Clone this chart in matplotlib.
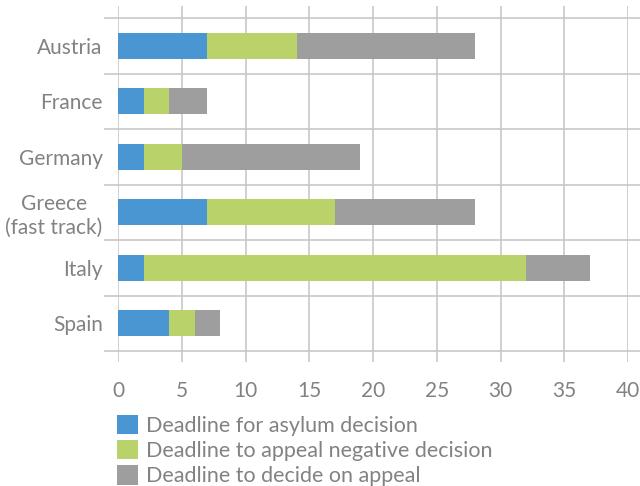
import matplotlib.pyplot as plt
from matplotlib.patches import Patch

countries = ["Austria", "France", "Germany", "Greece\n(fast track)", "Italy", "Spain"]
asylum_decision = [7, 2, 2, 7, 2, 4]
appeal_negative = [7, 2, 3, 10, 30, 2]
decide_on_appeal = [14, 3, 14, 11, 5, 2]
series_labels = [
    "Deadline for asylum decision",
    "Deadline to appeal negative decision",
    "Deadline to decide on appeal",
]
colors = ["#4a96d2", "#bad26a", "#9d9e9d"]
x_ticks = [0, 5, 10, 15, 20, 25, 30, 35, 40]

plt.rcParams['font.family'] = ['Lato', 'DejaVu Sans']
text_color = "#828282"
grid_color = "#c8c8c8"

fig = plt.figure(figsize=(6.4, 4.86), dpi=100)
W, H = 640, 486
left, right, top, bottom = 118, 628, 6, 362
ax = fig.add_axes([left / W, 1 - bottom / H, (right - left) / W, (bottom - top) / H])

cat_px = 55.5
ax.set_xlim(0, 40)
ax.set_ylim(len(countries) - 0.5 + 11 / cat_px, -0.5 - 12 / cat_px)

px_per_unit = (right - left) / 40
for x in x_ticks:
    ax.axvline(x, color=grid_color, lw=1.2, zorder=0)
for i in range(len(countries) + 1):
    ax.hlines(i - 0.5, -14 / px_per_unit, 40 + 12 / px_per_unit,
              color=grid_color, lw=1.2, zorder=0, clip_on=False)

y = range(len(countries))
starts = [0] * len(countries)
for vals, col, lab in zip([asylum_decision, appeal_negative, decide_on_appeal], colors, series_labels):
    ax.barh(y, vals, left=starts, height=0.47, color=col, label=lab, zorder=2)
    starts = [s + v for s, v in zip(starts, vals)]

for s in ax.spines.values():
    s.set_visible(False)
ax.set_xticks(x_ticks)
ax.set_yticks(list(y))
ax.set_yticklabels(countries, multialignment='center')
ax.tick_params(axis='both', length=0, labelsize=15, labelcolor=text_color)
ax.tick_params(axis='y', pad=11)
ax.tick_params(axis='x', pad=14)

handles = [Patch(facecolor=c, edgecolor='none') for c in colors]
leg = fig.legend(handles, series_labels, loc='upper left',
                 bbox_to_anchor=(108 / W, 1 - 406 / H), frameon=False,
                 fontsize=15.5, handlelength=1.0, handleheight=1.0,
                 handletextpad=0.35, labelspacing=0.2, borderaxespad=0)
for t in leg.get_texts():
    t.set_color(text_color)

fig.savefig("out.png", dpi=100)
